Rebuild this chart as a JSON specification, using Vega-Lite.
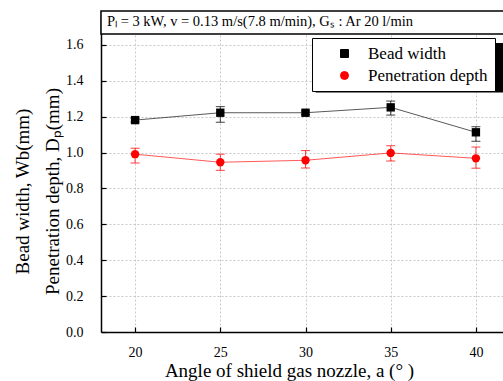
{
  "$schema": "https://vega.github.io/schema/vega-lite/v6.json",
  "width": 409,
  "height": 321,
  "autosize": {"type": "none"},
  "padding": {"left": 101, "top": 11, "right": 0, "bottom": 49},
  "background": "white",
  "config": {
    "font": "Liberation Serif",
    "view": {"stroke": null},
    "axis": {
      "labelFont": "Liberation Serif",
      "titleFont": "Liberation Serif",
      "labelColor": "black",
      "titleColor": "black",
      "titleFontWeight": "normal",
      "domainColor": "black",
      "domainWidth": 1.5,
      "tickColor": "black",
      "tickWidth": 1.2,
      "gridColor": "#c8c8c8",
      "gridDash": [2, 2],
      "gridWidth": 1
    }
  },
  "datasets": {
    "measurements": [
      {"angle": 20, "series": "Bead width", "mean": 1.181, "lo": 1.171, "hi": 1.191},
      {"angle": 25, "series": "Bead width", "mean": 1.222, "lo": 1.169, "hi": 1.256},
      {"angle": 30, "series": "Bead width", "mean": 1.222, "lo": 1.212, "hi": 1.232},
      {"angle": 35, "series": "Bead width", "mean": 1.252, "lo": 1.209, "hi": 1.287},
      {"angle": 40, "series": "Bead width", "mean": 1.113, "lo": 1.063, "hi": 1.144},
      {"angle": 20, "series": "Penetration depth", "mean": 0.991, "lo": 0.942, "hi": 1.024},
      {"angle": 25, "series": "Penetration depth", "mean": 0.946, "lo": 0.901, "hi": 0.991},
      {"angle": 30, "series": "Penetration depth", "mean": 0.957, "lo": 0.914, "hi": 1.011},
      {"angle": 35, "series": "Penetration depth", "mean": 0.998, "lo": 0.953, "hi": 1.038},
      {"angle": 40, "series": "Penetration depth", "mean": 0.968, "lo": 0.913, "hi": 1.031}
    ]
  },
  "layer": [
    {
      "data": {"name": "measurements"},
      "encoding": {
        "x": {
          "field": "angle",
          "type": "quantitative",
          "scale": {"domain": [18, 42], "nice": false, "zero": false},
          "axis": {
            "values": [20, 25, 30, 35, 40],
            "tickSize": -5,
            "labelPadding": 18,
            "labelFont": "Liberation Serif",
            "labelFontSize": 14,
            "title": "Angle of shield gas nozzle, a (°    )",
            "titleFont": "Liberation Serif",
            "titleFontSize": 19,
            "titlePadding": 2,
            "titleX": 188,
            "grid": true
          }
        },
        "y": {
          "type": "quantitative",
          "scale": {"domain": [0, 1.789], "nice": false, "zero": false},
          "axis": {
            "values": [0, 0.1, 0.2, 0.3, 0.4, 0.5, 0.6, 0.7, 0.8, 0.9, 1.0, 1.1, 1.2, 1.3, 1.4, 1.5, 1.6],
            "labelExpr": "round(datum.value * 10) % 2 === 0 ? format(datum.value, '.1f') : ''",
            "labelOverlap": false,
            "labelFont": "Liberation Serif",
            "labelFontSize": 14,
            "labelPadding": 23,
            "tickSize": {"condition": {"test": "round(datum.value * 10) % 2 === 0", "value": -5}, "value": -3},
            "gridOpacity": {"condition": {"test": "round(datum.value * 10) % 2 === 0", "value": 1}, "value": 0},
            "grid": true,
            "title": ["Bead width, Wb(mm)", "Penetration depth, Dₚ(mm)"],
            "titleFont": "Liberation Serif",
            "titleFontSize": 19,
            "titleLineHeight": 30,
            "titlePadding": 3,
            "titleY": 180
          }
        },
        "color": {
          "field": "series",
          "type": "nominal",
          "scale": {"domain": ["Bead width", "Penetration depth"], "range": ["black", "#ff0000"]},
          "legend": {
            "orient": "none",
            "legendX": 211,
            "legendY": 27,
            "title": null,
            "strokeColor": "black",
            "fillColor": "white",
            "padding": 7,
            "labelFont": "Liberation Serif",
            "labelFontSize": 17,
            "labelColor": "black",
            "rowPadding": 4,
            "symbolSize": 64,
            "symbolOffset": 17,
            "labelOffset": 15,
            "symbolStrokeWidth": 1,
            "symbolOpacity": 1
          }
        }
      },
      "layer": [
        {
          "mark": {"type": "line", "strokeWidth": 1, "opacity": 0.65},
          "encoding": {"y": {"field": "mean", "type": "quantitative"}}
        },
        {
          "mark": {"type": "rule", "strokeWidth": 1, "opacity": 0.75},
          "encoding": {"y": {"field": "lo", "type": "quantitative"}, "y2": {"field": "hi"}}
        },
        {
          "mark": {"type": "tick", "orient": "horizontal", "size": 9, "thickness": 1, "opacity": 0.75},
          "encoding": {"y": {"field": "lo", "type": "quantitative"}}
        },
        {
          "mark": {"type": "tick", "orient": "horizontal", "size": 9, "thickness": 1, "opacity": 0.75},
          "encoding": {"y": {"field": "hi", "type": "quantitative"}}
        },
        {
          "mark": {"type": "point", "filled": true, "opacity": 1, "size": 70},
          "encoding": {
            "y": {"field": "mean", "type": "quantitative"},
            "shape": {"field": "series", "type": "nominal", "scale": {"domain": ["Bead width", "Penetration depth"], "range": ["square", "circle"]}, "legend": null}
          }
        }
      ]
    },
    {
      "data": {"values": [{"label": "legend shadow"}]},
      "mark": {"type": "rect", "color": "black"},
      "encoding": {
        "x": {"datum": 30.6},
        "x2": {"datum": 41.7},
        "y": {"datum": 1.335},
        "y2": {"datum": 1.61}
      }
    },
    {
      "data": {"values": [{"label": "box"}]},
      "mark": {"type": "rect", "fill": "white", "stroke": "black", "strokeWidth": 1.5},
      "encoding": {
        "x": {"datum": 18},
        "x2": {"datum": 42.5},
        "y": {"datum": 1.661},
        "y2": {"datum": 1.789}
      }
    },
    {
      "data": {"values": [{"label": "Pₗ = 3 kW, v = 0.13 m/s(7.8 m/min), Gₛ : Ar 20 l/min"}]},
      "mark": {"type": "text", "align": "left", "baseline": "middle", "fontSize": 14.5, "font": "Liberation Serif", "color": "black"},
      "encoding": {
        "x": {"datum": 18.35},
        "y": {"datum": 1.726},
        "text": {"field": "label"}
      }
    }
  ]
}
